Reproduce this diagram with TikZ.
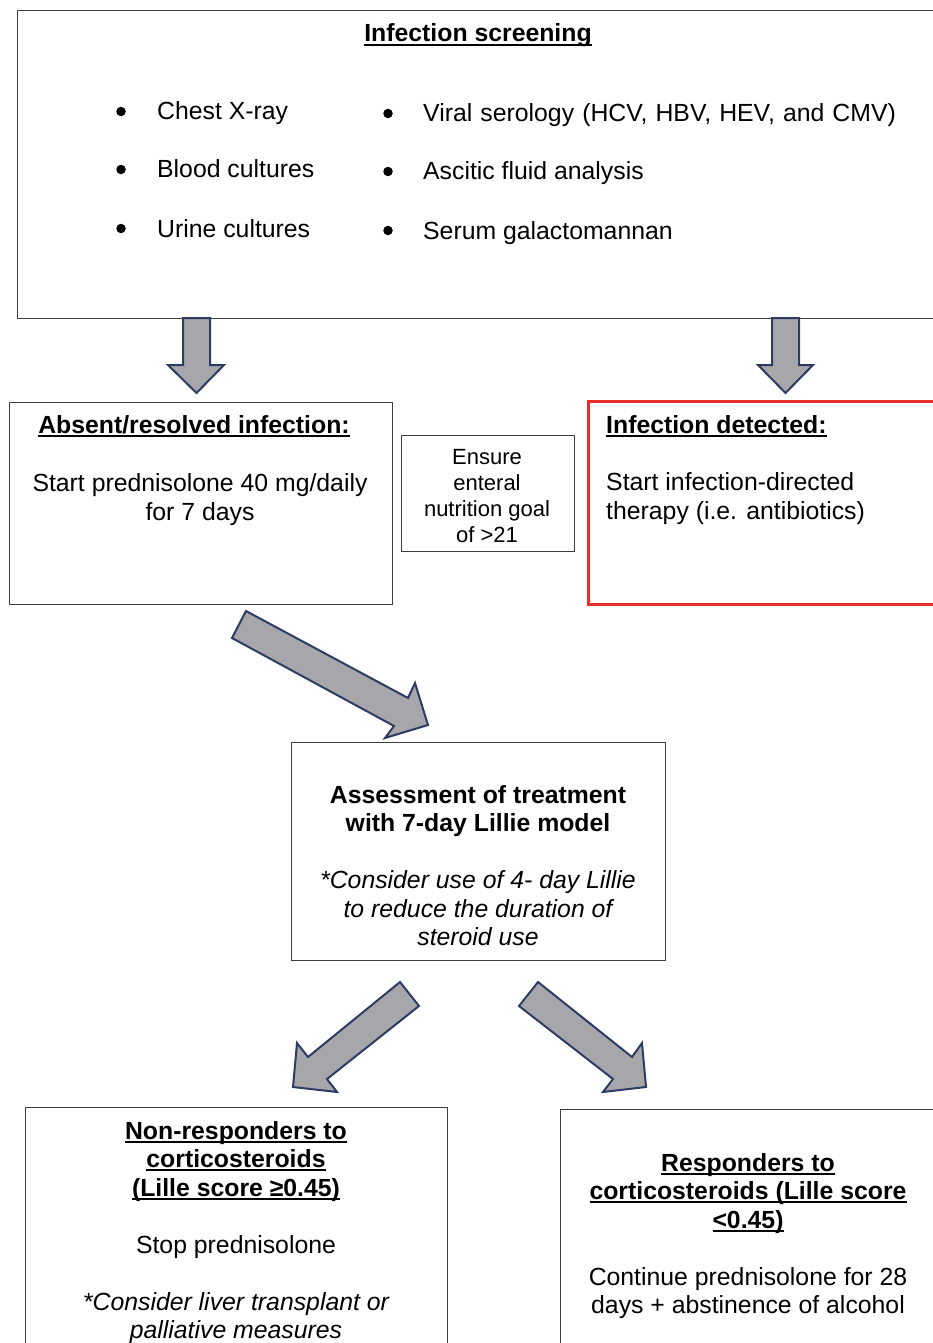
\documentclass[tikz,border=0pt]{standalone}
\usepackage{fontspec}
\setmainfont{Liberation Sans}
\definecolor{boxgray}{HTML}{404040}
\definecolor{boxred}{HTML}{E8302A}
\definecolor{arrfill}{HTML}{A7A6AA}
\definecolor{arrline}{HTML}{2E3C64}
\newcommand\fsz{\fontsize{24.8}{29}\selectfont}
\newcommand\fss{\fontsize{22}{26}\selectfont}
\newcommand\uln[1]{\leavevmode\setbox0\hbox{#1}\rlap{\rule[-3.6pt]{\wd0}{1.8pt}}\box0}
\begin{document}
\begin{tikzpicture}[x=1pt,y=-1pt,
  box/.style={draw=boxgray,line width=1.4pt,inner sep=0,anchor=north west},
  redbox/.style={draw=boxred,line width=3pt,inner sep=0,anchor=north west},
  blockarrow/.style={fill=arrfill,draw=arrline,line width=2pt,line join=miter},
  bulletdot/.style={circle,fill=black,inner sep=0,minimum size=9.5pt},
  txt/.style={inner sep=0,font=\fsz},
  stxt/.style={inner sep=0,font=\fss}]
\useasboundingbox (0,0) rectangle (933,1343);
\clip (0,0) rectangle (933,1343);
\fill[white] (0,0) rectangle (933,1343);

% boxes
\node[box,minimum width=950pt,minimum height=308pt] (top) at (17,10) {};
\node[box,minimum width=383pt,minimum height=202pt] (absent) at (9,402) {};
\node[box,minimum width=173pt,minimum height=116pt] (ensure) at (401,435) {};
\node[redbox,minimum width=400pt,minimum height=203pt] (detected) at (587,400) {};
\node[box,minimum width=374pt,minimum height=218pt] (assess) at (291,742) {};
\node[box,minimum width=422pt,minimum height=300pt] (nonresp) at (25,1107) {};
\node[box,minimum width=400pt,minimum height=300pt] (resp) at (560,1109) {};

% block arrows
\draw[blockarrow] (183,318) -- (210,318) -- (210,365) -- (224,365) -- (196.5,393) -- (168,365) -- (183,365) -- cycle;
\draw[blockarrow] (772,318) -- (799,318) -- (799,365) -- (813,365) -- (785.5,393) -- (758,365) -- (772,365) -- cycle;
\draw[blockarrow] (246,611) -- (408,698) -- (415,683) -- (428,725) -- (385,738) -- (394,726) -- (232,638) -- cycle;
\draw[blockarrow] (400,982) -- (308,1057) -- (297,1043) -- (293,1087) -- (337,1092) -- (327,1079) -- (419,1006) -- cycle;
\draw[blockarrow] (538,982) -- (632,1057) -- (642,1043) -- (646,1087) -- (603,1092) -- (613,1079) -- (519,1006) -- cycle;

% top box text
\node[txt,anchor=base] (t0) at (478,42) {\bfseries\uln{Infection screening}};
\node[bulletdot] (b1) at (121,111.5) {};
\node[bulletdot] (b2) at (121,169.5) {};
\node[bulletdot] (b3) at (121,228.5) {};
\node[txt,anchor=base west] (l1) at (157,120) {Chest X-ray};
\node[txt,anchor=base west] (l2) at (157,178) {Blood cultures};
\node[txt,anchor=base west] (l3) at (157,237) {Urine cultures};
\node[bulletdot] (b4) at (388,113.5) {};
\node[bulletdot] (b5) at (388,171.5) {};
\node[bulletdot] (b6) at (388,230.5) {};
\node[txt,anchor=base west] (r1) at (423,122) {\spaceskip=8.1pt Viral serology (HCV, HBV, HEV, and CMV)};
\node[txt,anchor=base west] (r2) at (423,180) {Ascitic fluid analysis};
\node[txt,anchor=base west] (r3) at (423,239) {Serum galactomannan};

% absent box text
\node[txt,anchor=base] (a0) at (194,433) {\bfseries\uln{Absent/resolved infection:}};
\node[txt,anchor=base] (a1) at (200,491) {Start prednisolone 40 mg/daily};
\node[txt,anchor=base] (a2) at (200,520) {for 7 days};

% ensure box text
\node[stxt,anchor=base] (e1) at (487,464.5) {Ensure};
\node[stxt,anchor=base] (e2) at (487,490.5) {enteral};
\node[stxt,anchor=base] (e3) at (487,516.5) {nutrition goal};
\node[stxt,anchor=base] (e4) at (487,542.5) {of >21};

% detected box text
\node[txt,anchor=base west] (d0) at (606,433) {\bfseries\uln{Infection detected:}};
\node[txt,anchor=base west] (d1) at (606,490) {Start infection-directed};
\node[txt,anchor=base west] (d2) at (606,519) {therapy (i.e. antibiotics)};

% assessment box text
\node[txt,anchor=base] (s1) at (478,803) {\bfseries Assessment of treatment};
\node[txt,anchor=base] (s2) at (478,831) {\bfseries with 7-day Lillie model};
\node[txt,anchor=base] (s3) at (478,888) {\itshape *Consider use of 4- day Lillie};
\node[txt,anchor=base] (s4) at (478,917) {\itshape to reduce the duration of};
\node[txt,anchor=base] (s5) at (478,945) {\itshape steroid use};

% non-responders text
\node[txt,anchor=base] (n1) at (236,1139) {\bfseries\uln{Non-responders to}};
\node[txt,anchor=base] (n2) at (236,1167) {\bfseries\uln{corticosteroids}};
\node[txt,anchor=base] (n3) at (236,1196) {\bfseries\uln{(Lille score ≥0.45)}};
\node[txt,anchor=base] (n4) at (236,1253) {Stop prednisolone};
\node[txt,anchor=base] (n5) at (236,1310) {\itshape *Consider liver transplant or};
\node[txt,anchor=base] (n6) at (236,1338) {\itshape palliative measures};

% responders text
\node[txt,anchor=base] (p1) at (748,1171) {\bfseries\uln{Responders to}};
\node[txt,anchor=base] (p2) at (748,1199) {\bfseries\uln{corticosteroids (Lille score}};
\node[txt,anchor=base] (p3) at (748,1228) {\bfseries\uln{<0.45)}};
\node[txt,anchor=base] (p4) at (748,1285) {Continue prednisolone for 28};
\node[txt,anchor=base] (p5) at (748,1313) {days + abstinence of alcohol};
\end{tikzpicture}
\end{document}
